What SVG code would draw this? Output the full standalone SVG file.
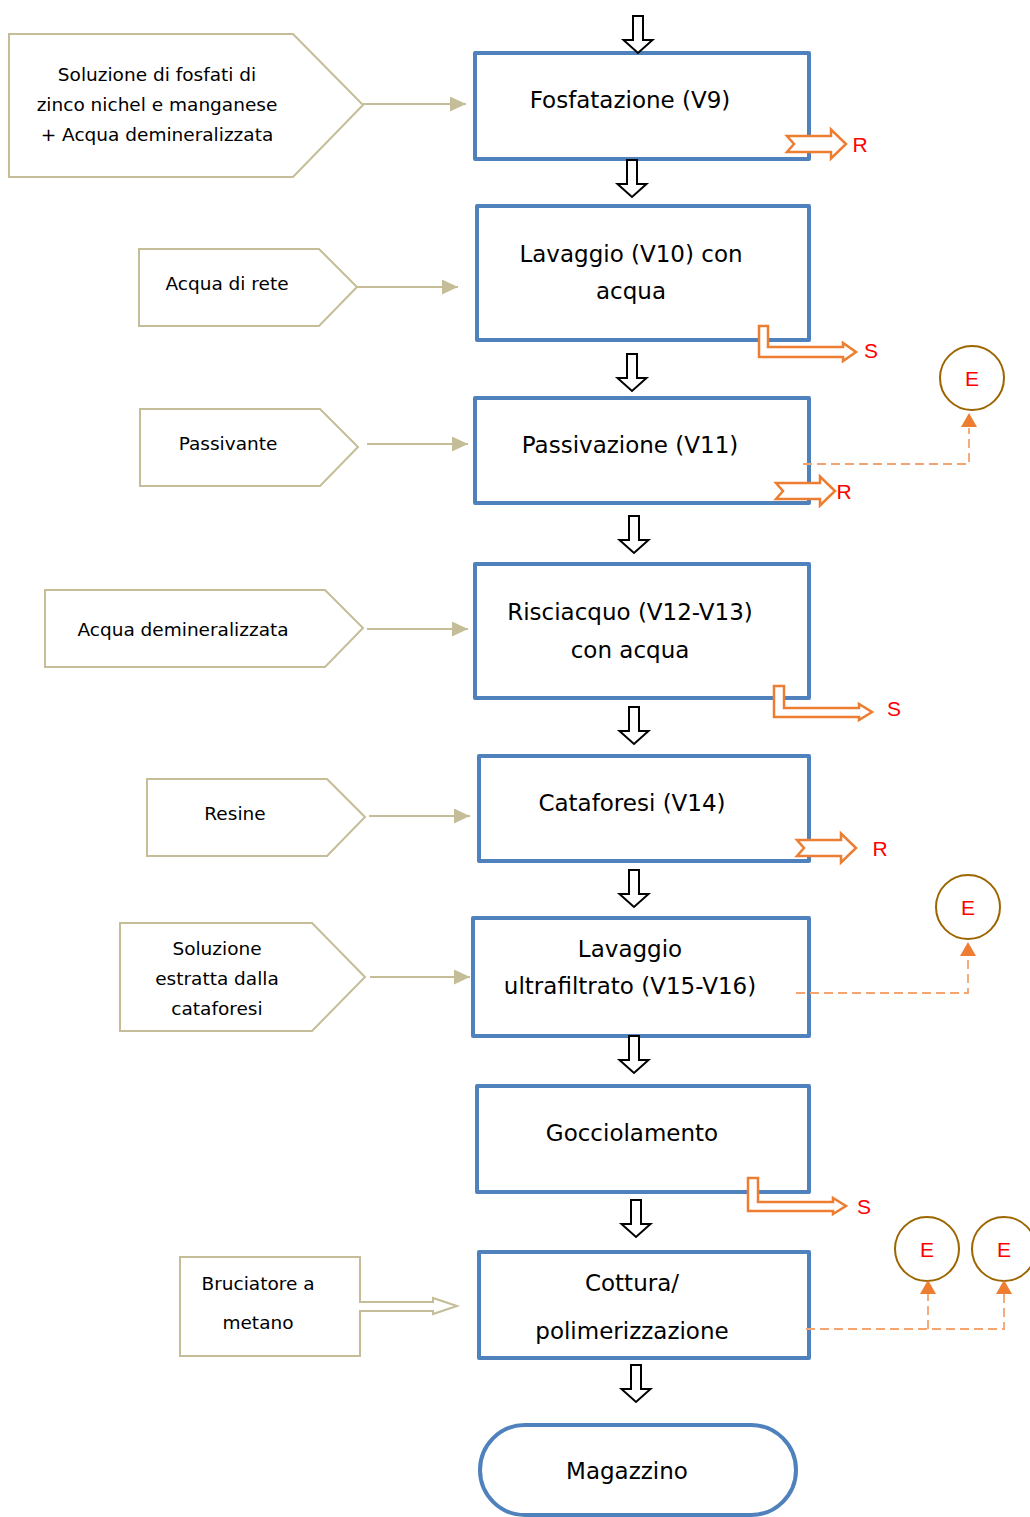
<svg xmlns="http://www.w3.org/2000/svg" width="1030" height="1517" viewBox="0 0 1030 1517">
  <defs>
    <style>
      .box { fill: #fff; stroke: #4F81BD; stroke-width: 4; stroke-linejoin: round; }
      .btxt { font-family: "DejaVu Sans", Verdana, sans-serif; font-size: 23px; fill: #000; text-anchor: middle; }
      .inp { fill: #fff; stroke: #C4BD97; stroke-width: 2; }
      .itxt { font-family: "DejaVu Sans", Verdana, sans-serif; font-size: 18.5px; fill: #000; text-anchor: middle; }
      .feed { stroke: #C4BD97; stroke-width: 2; fill: none; marker-end: url(#khakiHead); }
      .down { fill: #fff; stroke: #000; stroke-width: 2; stroke-linejoin: miter; }
      .out { fill: #fff; stroke: #ED7D31; stroke-width: 2.5; stroke-linejoin: miter; }
      .lbl { font-family: "Liberation Sans", Arial, sans-serif; font-size: 21px; fill: #FF0000; text-anchor: middle; }
      .emi { fill: #fff; stroke: #9C6500; stroke-width: 2; }
      .dash { stroke: #F4A46E; stroke-width: 1.8; fill: none; stroke-dasharray: 9 5; }
    </style>
    <marker id="khakiHead" viewBox="0 0 16 15" refX="16" refY="7.5" markerWidth="16" markerHeight="15" markerUnits="userSpaceOnUse" orient="auto">
      <path d="M0,0 L16,7.5 L0,15 Z" fill="#C4BD97"/>
    </marker>
    <!-- hollow down arrow, origin at top centre of the shaft -->
    <path id="downArrow" class="down" d="M-5,0 L5,0 L5,24 L14.5,24 L0,37 L-14.5,24 L-5,24 Z"/>
    <!-- notched block arrow pointing right, origin at tail centre -->
    <path id="rArrow" class="out" d="M0,-8 L44,-8 L44,-14.5 L59,0 L44,14.5 L44,8 L0,8 L7,0 Z"/>
    <!-- filled arrowhead pointing up, origin at tip -->
    <path id="upHead" d="M0,0 L8,14 L-8,14 Z" fill="#ED7D31"/>
  </defs>

  <!-- process steps -->
  <g id="step-fosfatazione">
    <rect class="box" x="475" y="53" width="334" height="106"/>
    <text class="btxt" x="630" y="108">Fosfatazione (V9)</text>
  </g>
  <g id="step-lavaggio-v10">
    <rect class="box" x="477" y="206" width="332" height="134"/>
    <text class="btxt" x="631" y="262">Lavaggio (V10) con</text>
    <text class="btxt" x="631" y="299">acqua</text>
  </g>
  <g id="step-passivazione">
    <rect class="box" x="475" y="398" width="334" height="105"/>
    <text class="btxt" x="630" y="453">Passivazione (V11)</text>
  </g>
  <g id="step-risciacquo">
    <rect class="box" x="475" y="564" width="334" height="134"/>
    <text class="btxt" x="630" y="620">Risciacquo (V12-V13)</text>
    <text class="btxt" x="630" y="658">con acqua</text>
  </g>
  <g id="step-cataforesi">
    <rect class="box" x="479" y="756" width="330" height="105"/>
    <text class="btxt" x="632" y="811">Cataforesi (V14)</text>
  </g>
  <g id="step-ultrafiltrato">
    <rect class="box" x="473" y="918" width="336" height="118"/>
    <text class="btxt" x="630" y="957">Lavaggio</text>
    <text class="btxt" x="630" y="994">ultrafiltrato (V15-V16)</text>
  </g>
  <g id="step-gocciolamento">
    <rect class="box" x="477" y="1086" width="332" height="106"/>
    <text class="btxt" x="632" y="1141">Gocciolamento</text>
  </g>
  <g id="step-cottura">
    <rect class="box" x="479" y="1252" width="330" height="106"/>
    <text class="btxt" x="632" y="1291">Cottura/</text>
    <text class="btxt" x="632" y="1339">polimerizzazione</text>
  </g>
  <g id="step-magazzino">
    <rect class="box" x="480" y="1425" width="316" height="90" rx="45" ry="45"/>
    <text class="btxt" x="627" y="1479">Magazzino</text>
  </g>

  <!-- inputs -->
  <g id="in-fosfati">
    <path class="inp" d="M9,34 L293,34 L363,105 L293,177 L9,177 Z"/>
    <text class="itxt" x="157" y="81">Soluzione di fosfati di</text>
    <text class="itxt" x="157" y="111">zinco nichel e manganese</text>
    <text class="itxt" x="157" y="141">+ Acqua demineralizzata</text>
  </g>
  <g id="in-acqua-rete">
    <path class="inp" d="M139,249 L319,249 L357,287 L319,326 L139,326 Z"/>
    <text class="itxt" x="227" y="290">Acqua di rete</text>
  </g>
  <g id="in-passivante">
    <path class="inp" d="M140,409 L320,409 L358,447 L320,486 L140,486 Z"/>
    <text class="itxt" x="228" y="450">Passivante</text>
  </g>
  <g id="in-acqua-demi">
    <path class="inp" d="M45,590 L325,590 L363,628 L325,667 L45,667 Z"/>
    <text class="itxt" x="183" y="636">Acqua demineralizzata</text>
  </g>
  <g id="in-resine">
    <path class="inp" d="M147,779 L327,779 L365,817 L327,856 L147,856 Z"/>
    <text class="itxt" x="235" y="820">Resine</text>
  </g>
  <g id="in-soluzione-estratta">
    <path class="inp" d="M120,923 L312,923 L365,977 L312,1031 L120,1031 Z"/>
    <text class="itxt" x="217" y="955">Soluzione</text>
    <text class="itxt" x="217" y="985">estratta dalla</text>
    <text class="itxt" x="217" y="1015">cataforesi</text>
  </g>
  <g id="in-bruciatore">
    <path class="inp" d="M360,1302 L360,1257 L180,1257 L180,1356 L360,1356 L360,1311 L433,1311 L433,1314 L457,1306 L433,1298 L433,1302 Z"/>
    <text class="itxt" x="258" y="1290">Bruciatore a</text>
    <text class="itxt" x="258" y="1329">metano</text>
  </g>

  <!-- emission points -->
  <g id="em-passivazione">
    <circle class="emi" cx="972" cy="378" r="32"/>
    <text class="lbl" x="972" y="386">E</text>
  </g>
  <g id="em-ultrafiltrato">
    <circle class="emi" cx="968" cy="907" r="32"/>
    <text class="lbl" x="968" y="915">E</text>
  </g>
  <g id="em-cottura-1">
    <circle class="emi" cx="927" cy="1249" r="32"/>
    <text class="lbl" x="927" y="1257">E</text>
  </g>
  <g id="em-cottura-2">
    <circle class="emi" cx="1004" cy="1249" r="32"/>
    <text class="lbl" x="1004" y="1257">E</text>
  </g>

  <!-- connectors -->
  <g id="connectors">
    <!-- feed lines -->
    <line class="feed" x1="363" y1="104" x2="466" y2="104"/>
    <line class="feed" x1="357" y1="287" x2="458" y2="287"/>
    <line class="feed" x1="367" y1="444" x2="468" y2="444"/>
    <line class="feed" x1="367" y1="629" x2="468" y2="629"/>
    <line class="feed" x1="369" y1="816" x2="470" y2="816"/>
    <line class="feed" x1="370" y1="977" x2="470" y2="977"/>

    <!-- flow between steps -->
    <use href="#downArrow" x="638" y="16"/>
    <use href="#downArrow" x="632" y="160"/>
    <use href="#downArrow" x="632" y="354"/>
    <use href="#downArrow" x="634" y="516"/>
    <use href="#downArrow" x="634" y="707"/>
    <use href="#downArrow" x="634" y="870"/>
    <use href="#downArrow" x="634" y="1036"/>
    <use href="#downArrow" x="636" y="1200"/>
    <use href="#downArrow" x="636" y="1365"/>

    <!-- recovery (R) -->
    <use href="#rArrow" x="787" y="144"/>
    <text class="lbl" x="860" y="152">R</text>
    <use href="#rArrow" x="776" y="491"/>
    <text class="lbl" x="844" y="499">R</text>
    <use href="#rArrow" x="797" y="848"/>
    <text class="lbl" x="880" y="856">R</text>

    <!-- discharges (S) -->
    <path class="out" d="M759,326 L768,326 L768,347 L843,347 L843,343 L856,352 L843,361 L843,357 L759,357 Z"/>
    <text class="lbl" x="871" y="358">S</text>
    <path class="out" d="M774,686 L784,686 L784,708 L859,708 L859,704 L872,712 L859,720 L859,717 L774,717 Z"/>
    <text class="lbl" x="894" y="716">S</text>
    <path class="out" d="M748,1178 L758,1178 L758,1202 L833,1202 L833,1198 L846,1206 L833,1214 L833,1211 L748,1211 Z"/>
    <text class="lbl" x="864" y="1214">S</text>

    <!-- emissions (E) -->
    <path class="dash" d="M803,464 L969,464 L969,428"/>
    <use href="#upHead" x="969" y="413"/>
    <path class="dash" d="M796,993 L968,993 L968,957"/>
    <use href="#upHead" x="968" y="942"/>
    <path class="dash" d="M806,1329 L1004,1329 L1004,1294"/>
    <path class="dash" d="M928,1329 L928,1294"/>
    <use href="#upHead" x="928" y="1280"/>
    <use href="#upHead" x="1004" y="1280"/>
  </g>
</svg>
